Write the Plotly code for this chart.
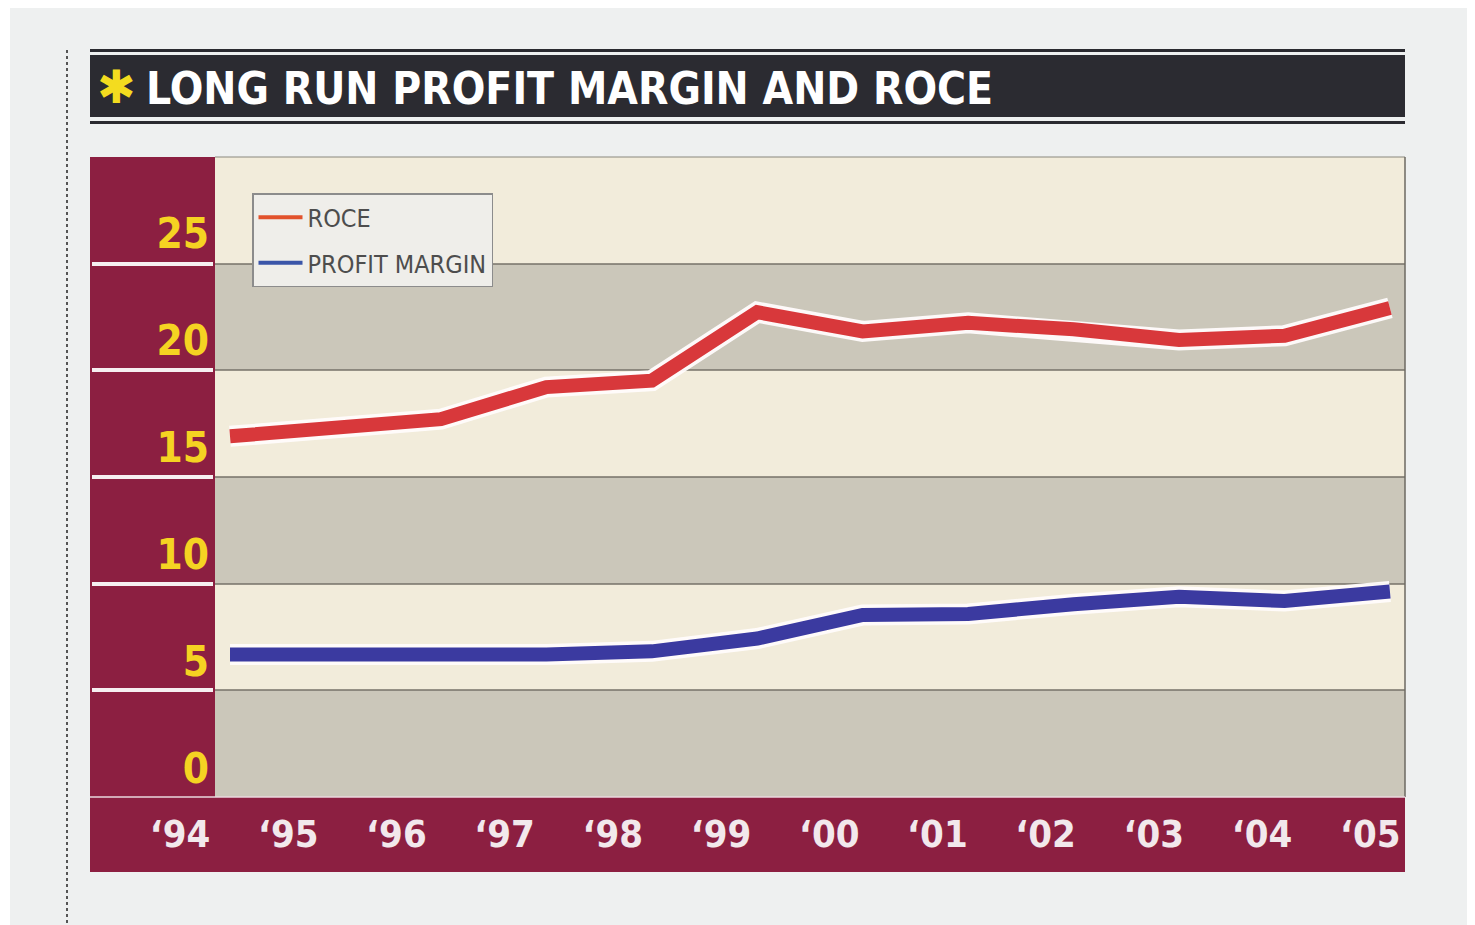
import plotly.graph_objects as go

# ---- data ----
years = [1994, 1995, 1996, 1997, 1998, 1999, 2000, 2001, 2002, 2003, 2004, 2005]
roce = [15.5, 15.9, 16.3, 17.8, 18.1, 21.3, 20.4, 20.8, 20.5, 20.0, 20.2, 21.5]
profit_margin = [5.3, 5.25, 5.3, 5.3, 5.45, 6.05, 7.15, 7.2, 7.65, 8.0, 7.8, 8.25]
tick_years = [1994, 1995, 1996, 1997, 1998, 1999, 2000, 2001, 2002, 2003, 2004, 2005]
tick_labels = ["\u201894", "\u201895", "\u201896", "\u201897", "\u201898", "\u201899",
               "\u201800", "\u201801", "\u201802", "\u201803", "\u201804", "\u201805"]
y_ticks = [0, 5, 10, 15, 20, 25]
title_text = "LONG RUN PROFIT MARGIN AND ROCE"

# ---- layout helpers (pixels -> paper); page body adds an 8px offset ----
W, H = 1475, 925
OFF = 8
def fx(p):
    return (p - OFF) / W
def fy(p):
    return 1 - (p - OFF) / H

FONT = "DejaVu Sans Condensed, DejaVu Sans, Liberation Sans, sans-serif"
MAROON = "#8c1f41"
CREAM = "#f2ecdb"
GREY = "#cbc7ba"
RED = "#d8383b"
BLUE = "#3b3aa0"

PL, PR, PT, PB = 90, 1405, 157, 797
AX_L = 215

fig = go.Figure()

# white halo + coloured lines
for vals, col in ((roce, RED), (profit_margin, BLUE)):
    fig.add_trace(go.Scatter(x=years, y=vals, mode="lines",
                             line=dict(color="rgba(255,252,252,0.95)", width=21),
                             showlegend=False, hoverinfo="skip", xaxis="x", yaxis="y"))
    fig.add_trace(go.Scatter(x=years, y=vals, mode="lines",
                             line=dict(color=col, width=14),
                             showlegend=False, xaxis="x", yaxis="y"))

# legend entries
fig.add_trace(go.Scatter(x=[None], y=[None], mode="lines", name="ROCE",
                         legendgroup="a",
                         line=dict(color="#e2522c", width=4), xaxis="x2", yaxis="y"))
fig.add_trace(go.Scatter(x=[None], y=[None], mode="lines", name="PROFIT MARGIN",
                         legendgroup="b",
                         line=dict(color="#3a55a8", width=4), xaxis="x2", yaxis="y"))

shapes = []
def rect(x0, y0, x1, y1, color, layer="below"):
    shapes.append(dict(type="rect", xref="paper", yref="paper",
                       x0=fx(x0), x1=fx(x1), y0=fy(y1), y1=fy(y0),
                       fillcolor=color, line=dict(width=0), layer=layer))
def hline(x0, x1, y, color, width, layer="below"):
    shapes.append(dict(type="line", xref="paper", yref="paper",
                       x0=fx(x0), x1=fx(x1), y0=fy(y), y1=fy(y),
                       line=dict(color=color, width=width), layer=layer))

# page
rect(10, 8, 1470, 935, "#eef0f0")
shapes.append(dict(type="line", xref="paper", yref="paper", x0=fx(67), x1=fx(67),
                   y0=fy(935), y1=fy(50), line=dict(color="#555", width=2, dash="dot"),
                   layer="below"))
# title bar
rect(PL, 49, PR, 52, "#2a2a30")
rect(PL, 55, PR, 117, "#2b2b31")
rect(PL, 121, PR, 124, "#2a2a30")

# bands
edges = [157, 264, 370, 477, 584, 690, 797]
for i in range(6):
    rect(AX_L, edges[i], PR, edges[i + 1], CREAM if i % 2 == 0 else GREY)
for e in edges[1:-1]:
    hline(AX_L, PR, e, "#767268", 1.5)
hline(AX_L, PR, PT, "#8a877e", 1.2)
shapes.append(dict(type="line", xref="paper", yref="paper", x0=fx(PR), x1=fx(PR),
                   y0=fy(PB), y1=fy(PT), line=dict(color="#6d6a62", width=1.5), layer="below"))

# left panel and bottom bar
rect(PL, PT, AX_L, PB, MAROON)
rect(PL, PB, PR, 872, MAROON)
for e in edges[1:-1]:
    hline(PL + 2, AX_L - 2, e, "#f6eff1", 4)
hline(PL, PR, PB, "#ead9de", 1.5)

annotations = [
    dict(text="\u2731", xref="paper", yref="paper", x=fx(116), y=fy(87),
         xanchor="center", yanchor="middle", showarrow=False,
         font=dict(family="DejaVu Sans, sans-serif", size=46, color="#f3dc1f")),
    dict(text="<b>%s</b>" % title_text, xref="paper", yref="paper", x=fx(144), y=fy(88),
         xanchor="left", yanchor="middle", showarrow=False,
         font=dict(family=FONT, size=44, color="#ffffff")),
]

# axis ranges from pixel geometry
x_px0, x_step = 230, 105.45      # data point spacing
lab_px0, lab_step = 180, 108.2   # tick label spacing
x_range = [years[0] - (x_px0 - PL) / x_step, years[-1] + (PR - (x_px0 + 11 * x_step)) / x_step]
x2_range = [tick_years[0] - (lab_px0 - PL) / lab_step,
            tick_years[-1] + (PR - (lab_px0 + 11 * lab_step)) / lab_step]
y0_px, y_unit = 768, 21.4
y_range = [-(PB - y0_px) / y_unit, (y0_px - PT) / y_unit]

fig.update_layout(
    width=W, height=H,
    margin=dict(l=0, r=0, t=0, b=0),
    paper_bgcolor="#ffffff",
    plot_bgcolor="rgba(0,0,0,0)",
    shapes=shapes,
    annotations=annotations,
    showlegend=True,
    legend=dict(x=fx(252), y=fy(193), xanchor="left", yanchor="top",
                bgcolor="#efeeea", bordercolor="#8c8c8c", borderwidth=1.5,
                font=dict(family=FONT, size=25, color="#4d4d4d"),
                traceorder="grouped", tracegroupgap=10,
                itemwidth=44),
    xaxis=dict(domain=[fx(PL), fx(PR)], range=x_range, anchor="y",
               showticklabels=False, showgrid=False, zeroline=False, showline=False,
               ticks=""),
    xaxis2=dict(overlaying="x", anchor="y", side="bottom", range=x2_range,
                tickmode="array", tickvals=tick_years, ticktext=tick_labels,
                tickfont=dict(family=FONT, size=38, color="#f2e8ec", weight=700),
                showgrid=False, zeroline=False, showline=False, ticks="",
                ticklabelstandoff=11),
    yaxis=dict(domain=[fy(PB), fy(PT)], range=y_range, anchor="free",
               position=fx(AX_L), side="left",
               tickmode="array", tickvals=y_ticks,
               tickfont=dict(family=FONT, size=42, color="#f5d322", weight=700),
               showgrid=False, zeroline=False, showline=False, ticks="",
               ticklabelstandoff=6),
)

fig.write_html("out.html")
